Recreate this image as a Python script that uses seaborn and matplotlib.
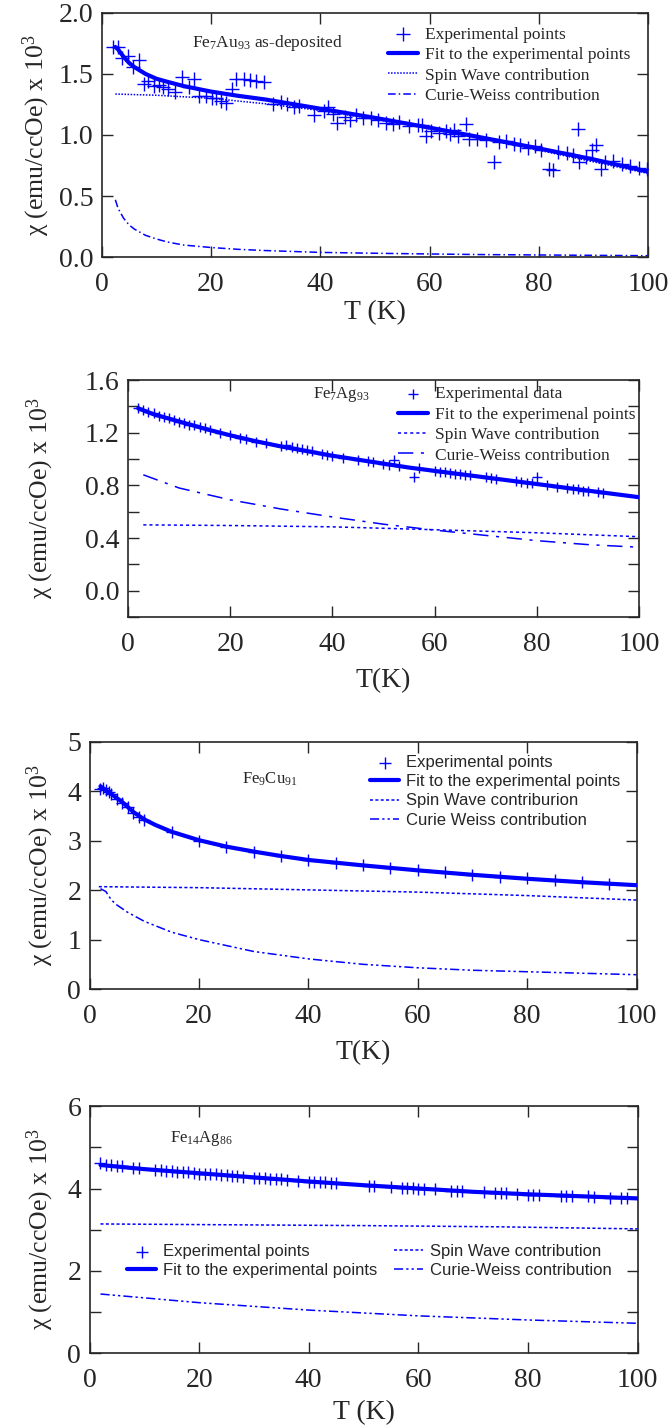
import pandas as pd
import matplotlib
matplotlib.use("Agg")
import matplotlib.pyplot as plt
import seaborn as sns

sns.set_style("ticks")
plt.rcParams["font.family"] = ["Liberation Serif", "DejaVu Serif"]
plt.rcParams["mathtext.fontset"] = "custom"
plt.rcParams["mathtext.rm"] = "Liberation Serif"
plt.rcParams["mathtext.it"] = "Liberation Serif:italic"
plt.rcParams["xtick.direction"] = "in"
plt.rcParams["ytick.direction"] = "in"

BLUE = "#0000ff"
SANS = ["Liberation Sans", "DejaVu Sans"]

# ---------------- Fe7Au93 as-deposited ----------------
au_exp_t = [2.1, 2.9, 3.8, 4.8, 5.8, 6.9, 7.7, 8.5, 9.5, 10.4, 11.2, 12.2, 13.4, 14.7,
            15.9, 16.8, 17.8, 19.0, 20.1, 20.9, 21.9, 22.7, 23.8, 24.6, 26.0, 27.1,
            28.3, 29.7, 31.4, 32.8, 33.9, 35.1, 36.1, 38.8, 40.6, 41.4, 42.3, 43.1,
            44.6, 45.4, 46.6, 47.8, 49.3, 50.5, 52.0, 53.2, 54.4, 56.3, 57.9, 58.6,
            59.4, 60.2, 61.7, 62.9, 63.7, 64.5, 65.2, 66.6, 67.2, 68.7, 70.3, 71.7,
            72.6, 74.0, 75.4, 76.5, 77.9, 79.2, 80.4, 81.9, 82.6, 83.5, 85.1, 86.2,
            87.1, 87.4, 88.6, 89.7, 90.5, 91.3, 92.1, 93.6, 95.2, 96.7, 98.3, 99.8]
au_exp_chi = [1.72, 1.72, 1.63, 1.65, 1.56, 1.61, 1.42, 1.44, 1.40, 1.41, 1.39, 1.38,
              1.35, 1.475, 1.39, 1.46, 1.32, 1.32, 1.30, 1.30, 1.28, 1.26, 1.38, 1.46,
              1.46, 1.45, 1.44, 1.43, 1.25, 1.27, 1.25, 1.23, 1.24, 1.16, 1.20, 1.23,
              1.17, 1.10, 1.15, 1.12, 1.16, 1.14, 1.14, 1.12, 1.10, 1.09, 1.11, 1.07,
              1.08, 1.08, 0.99, 1.03, 1.02, 1.03, 1.01, 1.04, 0.99, 1.09, 0.97, 0.97,
              0.96, 0.78, 0.94, 0.95, 0.93, 0.92, 0.89, 0.91, 0.88, 0.72, 0.71, 0.86,
              0.85, 0.84, 1.05, 0.78, 0.82, 0.88, 0.92, 0.72, 0.78, 0.79, 0.76, 0.75,
              0.73, 0.72]
au_fit_t = [2.5, 3, 4, 5, 6, 8, 10, 12, 15, 20, 25, 30, 40, 50, 60, 70, 80, 90, 100]
au_fit_chi = [1.72, 1.70, 1.64, 1.59, 1.555, 1.50, 1.46, 1.435, 1.40, 1.355, 1.32,
              1.29, 1.215, 1.14, 1.06, 0.975, 0.89, 0.80, 0.70]
au_sw_t = [2.5, 10, 20, 30, 40, 50, 60, 70, 80, 90, 100]
au_sw_chi = [1.335, 1.325, 1.30, 1.255, 1.20, 1.13, 1.05, 0.965, 0.875, 0.78, 0.685]
au_cw_t = [2.5, 3, 4, 5, 6, 8, 10, 12, 15, 20, 25, 30, 40, 50, 60, 70, 80, 90, 100]
au_cw_chi = [0.47, 0.40, 0.32, 0.265, 0.23, 0.18, 0.15, 0.125, 0.10, 0.08, 0.065,
             0.055, 0.04, 0.033, 0.027, 0.022, 0.019, 0.016, 0.013]

# ---------------- Fe7Ag93 ----------------
ag7_exp_t = [2, 3, 4, 5, 6, 7, 8, 9, 10, 11, 12, 13, 14, 15, 16, 18, 20, 22, 23, 25,
             27, 30, 31, 32, 33, 34, 35, 36, 38, 39, 40, 42, 45, 47, 48, 50, 51, 52,
             53, 56, 57, 60, 61, 62, 63, 64, 65, 66, 67, 70, 71, 72, 76, 77, 78, 79,
             80, 82, 84, 86, 87, 88, 89, 90, 92, 93]
ag7_exp_chi = [1.385, 1.37, 1.36, 1.35, 1.33, 1.32, 1.31, 1.30, 1.28, 1.275, 1.26,
               1.255, 1.24, 1.235, 1.22, 1.20, 1.18, 1.16, 1.155, 1.13, 1.12, 1.10,
               1.11, 1.09, 1.08, 1.075, 1.065, 1.06, 1.04, 1.03, 1.025, 1.01, 0.99,
               0.985, 0.98, 0.96, 0.955, 0.99, 0.945, 0.865, 0.93, 0.91, 0.905, 0.90,
               0.895, 0.89, 0.885, 0.88, 0.875, 0.86, 0.855, 0.85, 0.83, 0.825, 0.82,
               0.815, 0.86, 0.80, 0.79, 0.78, 0.775, 0.77, 0.76, 0.76, 0.75, 0.745]
ag7_fit_t = [2, 5, 10, 15, 20, 25, 30, 35, 40, 45, 50, 55, 60, 65, 70, 75, 80, 85,
             90, 95, 100]
ag7_fit_chi = [1.385, 1.34, 1.285, 1.23, 1.18, 1.135, 1.095, 1.06, 1.025, 0.995,
               0.965, 0.935, 0.91, 0.885, 0.86, 0.835, 0.81, 0.785, 0.76, 0.735, 0.71]
ag7_sw_t = [3, 20, 40, 60, 80, 100]
ag7_sw_chi = [0.50, 0.495, 0.485, 0.463, 0.44, 0.41]
ag7_cw_t = [3, 10, 20, 30, 40, 50, 60, 70, 80, 90, 100]
ag7_cw_chi = [0.88, 0.78, 0.69, 0.62, 0.56, 0.505, 0.46, 0.42, 0.38, 0.35, 0.33]

# ---------------- Fe9Cu91 ----------------
cu_exp_t = [2, 2.5, 3, 3.5, 4, 5, 6, 7, 8, 9, 10, 15, 20, 25, 30, 35, 40, 45, 50,
            55, 60, 65, 70, 75, 80, 85, 90, 95]
cu_exp_chi = [4.05, 4.07, 4.02, 3.98, 3.95, 3.85, 3.76, 3.68, 3.56, 3.48, 3.42, 3.18,
              3.00, 2.88, 2.78, 2.69, 2.61, 2.55, 2.50, 2.45, 2.40, 2.36, 2.31, 2.27,
              2.24, 2.20, 2.16, 2.13]
cu_fit_t = [2, 3, 4, 5, 6, 8, 10, 12, 15, 20, 25, 30, 35, 40, 50, 60, 70, 80, 90, 100]
cu_fit_chi = [4.10, 4.02, 3.94, 3.86, 3.78, 3.58, 3.43, 3.32, 3.18, 3.01, 2.88, 2.78,
              2.69, 2.61, 2.50, 2.40, 2.31, 2.23, 2.16, 2.10]
cu_sw_t = [1.7, 20, 40, 60, 80, 100]
cu_sw_chi = [2.07, 2.05, 2.005, 1.96, 1.89, 1.80]
cu_cw_t = [2, 3, 4, 5, 7, 10, 15, 20, 30, 40, 50, 60, 70, 80, 90, 100]
cu_cw_chi = [2.03, 1.97, 1.80, 1.70, 1.55, 1.37, 1.15, 1.00, 0.76, 0.61, 0.50, 0.43,
             0.38, 0.35, 0.32, 0.29]

# ---------------- Fe14Ag86 ----------------
ag14_exp_t = [2, 3, 4, 5, 6, 8, 9, 12, 13, 14, 15, 16, 17, 18, 19, 20, 21, 22, 23,
              24, 25, 26, 27, 28, 30, 31, 32, 33, 34, 35, 36, 38, 40, 41, 42, 43, 44,
              45, 51, 52, 55, 57, 58, 59, 60, 61, 63, 66, 67, 68, 72, 74, 75, 76, 78,
              80, 81, 82, 86, 87, 88, 91, 92, 95, 97, 98]
ag14_exp_chi = [4.62, 4.58, 4.58, 4.55, 4.54, 4.50, 4.49, 4.45, 4.44, 4.43, 4.42,
                4.41, 4.40, 4.39, 4.38, 4.36, 4.36, 4.35, 4.34, 4.33, 4.32, 4.31,
                4.30, 4.29, 4.26, 4.26, 4.25, 4.24, 4.23, 4.22, 4.21, 4.19, 4.16,
                4.16, 4.15, 4.15, 4.14, 4.13, 4.07, 4.07, 4.04, 4.02, 4.01, 4.01,
                4.00, 3.99, 3.98, 3.95, 3.94, 3.93, 3.91, 3.90, 3.89, 3.88, 3.87,
                3.85, 3.85, 3.84, 3.83, 3.82, 3.82, 3.81, 3.80, 3.78, 3.77, 3.77]
ag14_fit_t = [2, 10, 20, 30, 40, 50, 60, 70, 80, 90, 100]
ag14_fit_chi = [4.57, 4.47, 4.37, 4.27, 4.17, 4.08, 4.00, 3.92, 3.86, 3.81, 3.76]
ag14_sw_t = [2, 25, 50, 75, 100]
ag14_sw_chi = [3.14, 3.12, 3.10, 3.07, 3.02]
ag14_cw_t = [2, 20, 40, 60, 80, 100]
ag14_cw_chi = [1.44, 1.23, 1.05, 0.91, 0.81, 0.73]

YLABEL = "χ (emu/ccOe) x 10$^\\mathregular{3}$"
TICK_FS = 20


def draw_panel(ax, exp, fit, sw, cw, labels, sw_style, cw_style, ms):
    """Scatter of experimental points plus fit and its two contributions."""
    sns.scatterplot(x=exp[0], y=exp[1], ax=ax, marker="+", s=ms, color=BLUE,
                    linewidth=1.0, label=labels[0], zorder=3)
    sns.lineplot(x=fit[0], y=fit[1], ax=ax, color=BLUE, linewidth=3.0,
                 label=labels[1], zorder=4)
    sns.lineplot(x=sw[0], y=sw[1], ax=ax, color=BLUE, linewidth=1.1,
                 linestyle=sw_style, label=labels[2])
    sns.lineplot(x=cw[0], y=cw[1], ax=ax, color=BLUE, linewidth=1.1,
                 linestyle=cw_style, label=labels[3])
    ax.set_xlim(0, 100)
    ax.set_xticks([0, 20, 40, 60, 80, 100])
    ax.tick_params(which="both", top=True, right=True, length=8, width=1.0,
                   labelsize=TICK_FS)
    ax.tick_params(axis="x", pad=10.5)
    ax.tick_params(axis="y", pad=6)
    for s in ax.spines.values():
        s.set_linewidth(1.2)
    ax.set_ylabel(YLABEL, fontsize=18.5)


def legend(ax, anchor, sans=False, **kw):
    prop = {"family": SANS if sans else ["Liberation Serif"],
            "size": 12 if sans else 12.5}
    ax.legend(loc="upper left", bbox_to_anchor=anchor, frameon=False, prop=prop,
              borderpad=0, borderaxespad=0, labelspacing=0.25,
              handlelength=1.75, handletextpad=0.4, **kw)


fig = plt.figure(figsize=(6.68, 14.27), dpi=100)

# panel 1
ax1 = fig.add_axes([0.1522, 0.8197, 0.8184, 0.1714])
draw_panel(ax1, (au_exp_t, au_exp_chi), (au_fit_t, au_fit_chi),
           (au_sw_t, au_sw_chi), (au_cw_t, au_cw_chi),
           ["Experimental points", "Fit to the experimental points",
            "Spin Wave contribution", "Curie-Weiss contribution"],
           (0, (1, 1)), (0, (5, 2, 1, 2)), 90)
ax1.set_ylim(0, 2.0)
ax1.set_yticks([0, 0.5, 1.0, 1.5, 2.0])
ax1.set_yticklabels(["0.0", "0.5", "1.0", "1.5", "2.0"])
ax1.set_xlabel("T (K)", fontsize=TICK_FS, labelpad=2.3)
ax1.yaxis.set_label_coords(-0.091, 0.5)
ax1.text(0.165, 0.875, "Fe$_\\mathregular{7}$Au$_\\mathregular{93}$ as-deposited",
         transform=ax1.transAxes, fontsize=12.5, va="center")
legend(ax1, (0.523, 0.944))

# panel 2
ax2 = fig.add_axes([0.1916, 0.5676, 0.765, 0.1661])
draw_panel(ax2, (ag7_exp_t, ag7_exp_chi), (ag7_fit_t, ag7_fit_chi),
           (ag7_sw_t, ag7_sw_chi), (ag7_cw_t, ag7_cw_chi),
           ["Experimental data", "Fit to the experimenal points",
            "Spin Wave contribution", "Curie-Weiss contribution"],
           (0, (2, 2)), (0, (10, 5, 2, 5)), 60)
ax2.set_ylim(-0.2, 1.6)
ax2.set_yticks([0, 0.4, 0.8, 1.2, 1.6])
ax2.set_yticks([-0.2, 0.2, 0.6, 1.0, 1.4], minor=True)
ax2.set_yticklabels(["0.0", "0.4", "0.8", "1.2", "1.6"])
ax2.set_xlabel("T(K)", fontsize=TICK_FS, labelpad=8.2)
ax2.yaxis.set_label_coords(-0.14, 0.5)
ax2.text(0.362, 0.937, "Fe$_\\mathregular{7}$Ag$_\\mathregular{93}$",
         transform=ax2.transAxes, fontsize=12, va="center")
legend(ax2, (0.528, 0.975))

# panel 3
ax3 = fig.add_axes([0.134, 0.3069, 0.819, 0.1733])
draw_panel(ax3, (cu_exp_t, cu_exp_chi), (cu_fit_t, cu_fit_chi),
           (cu_sw_t, cu_sw_chi), (cu_cw_t, cu_cw_chi),
           ["Experimental points", "Fit to the experimental points",
            "Spin Wave contriburion", "Curie Weiss contribution"],
           (0, (2, 1.5)), (0, (6, 2, 1.5, 2, 1.5, 2)), 70)
ax3.set_ylim(0, 5)
ax3.set_yticks([0, 1, 2, 3, 4, 5])
ax3.set_xlabel("T(K)", fontsize=TICK_FS, labelpad=8.4)
ax3.yaxis.set_label_coords(-0.062, 0.5)
ax3.text(0.278, 0.848, "Fe$_\\mathregular{9}$Cu$_\\mathregular{91}$",
         transform=ax3.transAxes, fontsize=12, va="center")
legend(ax3, (0.513, 0.946), sans=True)

# panel 4
ax4 = fig.add_axes([0.134, 0.0516, 0.8204, 0.1733])
draw_panel(ax4, (ag14_exp_t, ag14_exp_chi), (ag14_fit_t, ag14_fit_chi),
           (ag14_sw_t, ag14_sw_chi), (ag14_cw_t, ag14_cw_chi),
           ["Experimental points", "Fit to the experimental points",
            "Spin Wave contribution", "Curie-Weiss contribution"],
           (0, (2, 1.5)), (0, (6, 2, 1.5, 2, 1.5, 2)), 70)
ax4.set_ylim(0, 6)
ax4.set_yticks([0, 2, 4, 6])
ax4.set_yticks([1, 3, 5], minor=True)
ax4.set_xlabel("T (K)", fontsize=TICK_FS, labelpad=5.5)
ax4.yaxis.set_label_coords(-0.062, 0.5)
ax4.text(0.146, 0.869, "Fe$_\\mathregular{14}$Ag$_\\mathregular{86}$",
         transform=ax4.transAxes, fontsize=12, va="center")
legend(ax4, (0.069, 0.442), sans=True, ncol=2, columnspacing=1.0)

fig.savefig("out.png", dpi=100)
plt.close(fig)
